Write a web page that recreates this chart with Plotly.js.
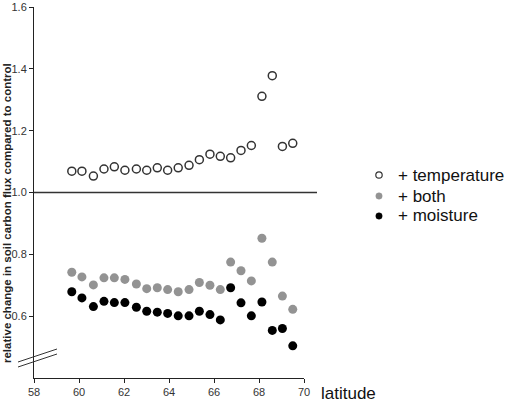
<!DOCTYPE html>
<html>
<head>
<meta charset="utf-8">
<script src="https://cdn.plot.ly/plotly-3.0.1.min.js"></script>
<style>html,body{margin:0;padding:0;background:#fff;}#chart{width:507px;height:405px;}</style>
</head>
<body>
<div id="chart"></div>
<script>
const latitude = [59.68, 60.13, 60.64, 61.11, 61.57, 62.04, 62.55, 63.01, 63.48, 63.94, 64.41, 64.89, 65.35, 65.82, 66.28, 66.74, 67.20, 67.66, 68.13, 68.59, 69.04, 69.50];
const temperature = [1.069, 1.069, 1.053, 1.076, 1.083, 1.072, 1.076, 1.072, 1.080, 1.072, 1.080, 1.088, 1.106, 1.124, 1.117, 1.112, 1.136, 1.152, 1.311, 1.378, 1.149, 1.159];
const both = [0.742, 0.727, 0.701, 0.724, 0.724, 0.719, 0.704, 0.689, 0.692, 0.686, 0.679, 0.686, 0.709, 0.700, 0.686, 0.775, 0.747, 0.714, 0.852, 0.775, 0.665, 0.622];
const moisture = [0.679, 0.659, 0.631, 0.648, 0.644, 0.644, 0.629, 0.616, 0.613, 0.609, 0.601, 0.601, 0.616, 0.605, 0.588, 0.692, 0.643, 0.601, 0.646, 0.554, 0.560, 0.504];
const seriesNames = ['+ temperature', '+ both', '+ moisture'];
const xTicks = [58, 60, 62, 64, 66, 68, 70];
const yTicks = [0.6, 0.8, 1.0, 1.2, 1.4, 1.6];
const yTickText = ['0.6', '0.8', '1.0', '1.2', '1.4', '1.6'];

const W = 507, H = 405, L = 34, R = 203, T = 7, B = 27;
const pw = W - L - R, ph = H - T - B;
const px = v => (v - L) / pw;
const py = v => (H - B - v) / ph;

const traces = [
  {x: latitude, y: temperature, name: seriesNames[0], type: 'scatter', mode: 'markers', cliponaxis: false,
   marker: {symbol: 'circle', size: 8, color: '#ffffff', line: {color: '#333333', width: 1.5}}},
  {x: latitude, y: both, name: seriesNames[1], type: 'scatter', mode: 'markers', cliponaxis: false,
   marker: {symbol: 'circle', size: 9, color: '#939393', line: {width: 0}}},
  {x: latitude, y: moisture, name: seriesNames[2], type: 'scatter', mode: 'markers', cliponaxis: false,
   marker: {symbol: 'circle', size: 9, color: '#000000', line: {width: 0}}}
];

const legendY = [175, 196, 216];
const legendFill = ['#ffffff', '#939393', '#000000'];
const legendLine = ['#333333', '#939393', '#000000'];
const legendShapes = legendY.map((yy, i) => ({
  type: 'circle', xref: 'paper', yref: 'paper', xsizemode: 'pixel', ysizemode: 'pixel',
  xanchor: px(379), yanchor: py(yy), x0: -3.2, x1: 3.2, y0: -3.2, y1: 3.2,
  fillcolor: legendFill[i], line: {color: legendLine[i], width: i === 0 ? 1.2 : 0.5}
}));
const legendText = legendY.map((yy, i) => ({
  text: seriesNames[i], xref: 'paper', yref: 'paper', x: px(396), y: py(yy), xanchor: 'left', yanchor: 'middle',
  showarrow: false, font: {size: 17, color: '#111'}
}));

const layout = {
  width: W, height: H,
  margin: {l: L, r: R, t: T, b: B, pad: 0},
  paper_bgcolor: '#ffffff', plot_bgcolor: '#ffffff',
  font: {family: 'Arial, Liberation Sans, sans-serif', color: '#333'},
  showlegend: false,
  xaxis: {range: [58, 70], tickvals: xTicks, ticktext: xTicks.map(String), showgrid: false, zeroline: false,
          showline: true, linecolor: '#222', linewidth: 1, ticks: 'outside', ticklen: 4, tickcolor: '#222',
          tickfont: {size: 11, color: '#333'}},
  yaxis: {range: [0.4, 1.6], tickvals: yTicks, ticktext: yTickText, showgrid: false, zeroline: false,
          showline: true, linecolor: '#222', linewidth: 1, ticks: 'outside', ticklen: 4, tickcolor: '#222',
          tickfont: {size: 11, color: '#333'}},
  shapes: [
    {type: 'line', xref: 'paper', yref: 'y', x0: 0, x1: px(317), y0: 1.0, y1: 1.0, line: {color: '#333', width: 1.3}},
    {type: 'line', xref: 'paper', yref: 'paper', x0: px(18), x1: px(57), y0: py(362), y1: py(349), line: {color: '#333', width: 1}},
    {type: 'line', xref: 'paper', yref: 'paper', x0: px(18), x1: px(57), y0: py(367), y1: py(354), line: {color: '#333', width: 1}}
  ].concat(legendShapes),
  annotations: [
    {text: '<b>relative change in soil carbon flux compared to control</b>', xref: 'paper', yref: 'paper',
     x: px(7), y: py(213), textangle: -90, showarrow: false, xanchor: 'center', yanchor: 'middle',
     font: {size: 11.5, color: '#222'}},
    {text: 'latitude', xref: 'paper', yref: 'paper', x: px(319), y: py(393), xanchor: 'left', yanchor: 'middle',
     showarrow: false, font: {size: 17, color: '#111'}}
  ].concat(legendText)
};

Plotly.newPlot('chart', traces, layout, {staticPlot: true, displayModeBar: false});
</script>
</body>
</html>
